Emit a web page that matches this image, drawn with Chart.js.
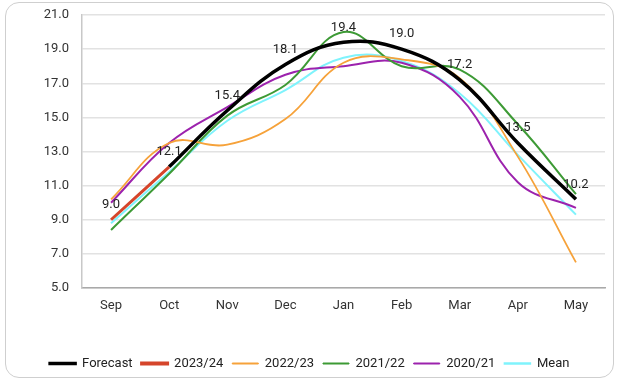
<!DOCTYPE html>
<html>
<head>
<meta charset="utf-8">
<script src="https://cdn.jsdelivr.net/npm/chart.js@4"></script>
<style>
  html, body { margin: 0; padding: 0; background: #fff; }
  body { width: 619px; height: 381px; position: relative; overflow: hidden; }
  .card { position: absolute; left: 5px; top: 2px; width: 609px; height: 376px;
          border: 1px solid #cfcfcf; border-radius: 14px; box-sizing: border-box; }
  #wrap { position: absolute; left: 0; top: 0; width: 619px; height: 381px; }
</style>
</head>
<body>
<div class="card"></div>
<div id="wrap"><canvas id="c" width="619" height="381"></canvas></div>
<script>
// Months of the season
const months = ['Sep', 'Oct', 'Nov', 'Dec', 'Jan', 'Feb', 'Mar', 'Apr', 'May'];

// Forecast and past seasons
const forecast = [null, 12.1, 15.4, 18.1, 19.4, 19.0, 17.2, 13.5, 10.2];
const season2324 = [9.0, 12.1, null, null, null, null, null, null, null];
const season2223 = [10.2, 13.5, 13.4, 14.9, 18.2, 18.4, 17.3, 12.7, 6.5];
const season2122 = [8.4, 11.7, 15.1, 16.9, 20.0, 18.0, 17.8, 14.6, 10.5];
const season2021 = [10.0, 13.5, 15.6, 17.5, 18.0, 18.2, 16.2, 11.2, 9.7];
const seasonMean = [8.8, 11.8, 14.8, 16.6, 18.5, 18.3, 16.4, 12.8, 9.3];

// Y axis range
const yMin = 5, yMax = 21, yStep = 2;

const FONT = 'Roboto, "Liberation Sans", Arial, sans-serif';

// Value labels: forecast points, plus the current season where no forecast exists
const valueLabels = {
  id: 'valueLabels',
  afterDatasetsDraw(chart) {
    const ctx = chart.ctx;
    const fMeta = chart.getDatasetMeta(0);
    const cMeta = chart.getDatasetMeta(1);
    ctx.save();
    ctx.font = '13px ' + FONT;
    ctx.fillStyle = '#222';
    ctx.textAlign = 'center';
    ctx.textBaseline = 'middle';
    months.forEach((m, i) => {
      let v = forecast[i], pt = fMeta.data[i];
      if (v === null) { v = season2324[i]; pt = cMeta.data[i]; }
      if (v === null || !pt) return;
      ctx.fillText(v.toFixed(1), pt.x, pt.y - 15);
    });
    ctx.restore();
  }
};

function line(label, data, color, width, keyWidth) {
  return {
    label, data,
    borderColor: color,
    backgroundColor: color,
    borderWidth: width,
    keyWidth: keyWidth,
    pointRadius: 0,
    pointHoverRadius: 0,
    tension: 0.4,
    fill: false
  };
}

new Chart(document.getElementById('c'), {
  type: 'line',
  data: {
    labels: months,
    datasets: [
      line('Forecast', forecast, '#000000', 3.5, 2.5),
      line('2023/24', season2324, '#d5452b', 3, 3),
      line('2022/23', season2223, '#f6a23a', 1.8, 1),
      line('2021/22', season2122, '#3d9a35', 2, 1),
      line('2020/21', season2021, '#9c22ad', 2, 1),
      line('Mean', seasonMean, '#7ff3fc', 2, 1.5)
    ]
  },
  options: {
    responsive: false,
    animation: false,
    devicePixelRatio: 1,
    layout: { padding: { left: 14, right: 14, top: 15, bottom: 1 } },
    plugins: {
      tooltip: { enabled: false },
      legend: {
        position: 'bottom',
        labels: {
          font: { family: FONT, size: 13 },
          color: '#222',
          boxWidth: 26,
          boxHeight: 1,
          padding: 9,
          generateLabels(chart) {
            return chart.data.datasets.map((ds, i) => ({
              text: ds.label,
              fillStyle: ds.borderColor,
              strokeStyle: ds.borderColor,
              lineWidth: ds.keyWidth,
              fontColor: '#222',
              hidden: false,
              datasetIndex: i
            }));
          }
        }
      }
    },
    scales: {
      x: {
        offset: true,
        grid: { display: false, drawTicks: false },
        border: { display: true, color: '#a9a9a9', width: 1.5 },
        ticks: { font: { family: FONT, size: 13 }, color: '#333', padding: 10 },
        afterFit(scale) { scale.height = 60; }
      },
      y: {
        min: yMin, max: yMax,
        grid: { color: '#e2e2e2', lineWidth: 1.5, drawTicks: false },
        border: { display: true, color: '#c8c8c8', width: 1.5 },
        ticks: {
          stepSize: yStep,
          font: { family: FONT, size: 13 },
          color: '#333',
          padding: 13,
          callback: v => Number(v).toFixed(1)
        },
        afterFit(scale) {
          scale.width = 68;
          scale.paddingTop = 0;
          scale.paddingBottom = 0;
        }
      }
    }
  },
  plugins: [valueLabels]
});
</script>
</body>
</html>
